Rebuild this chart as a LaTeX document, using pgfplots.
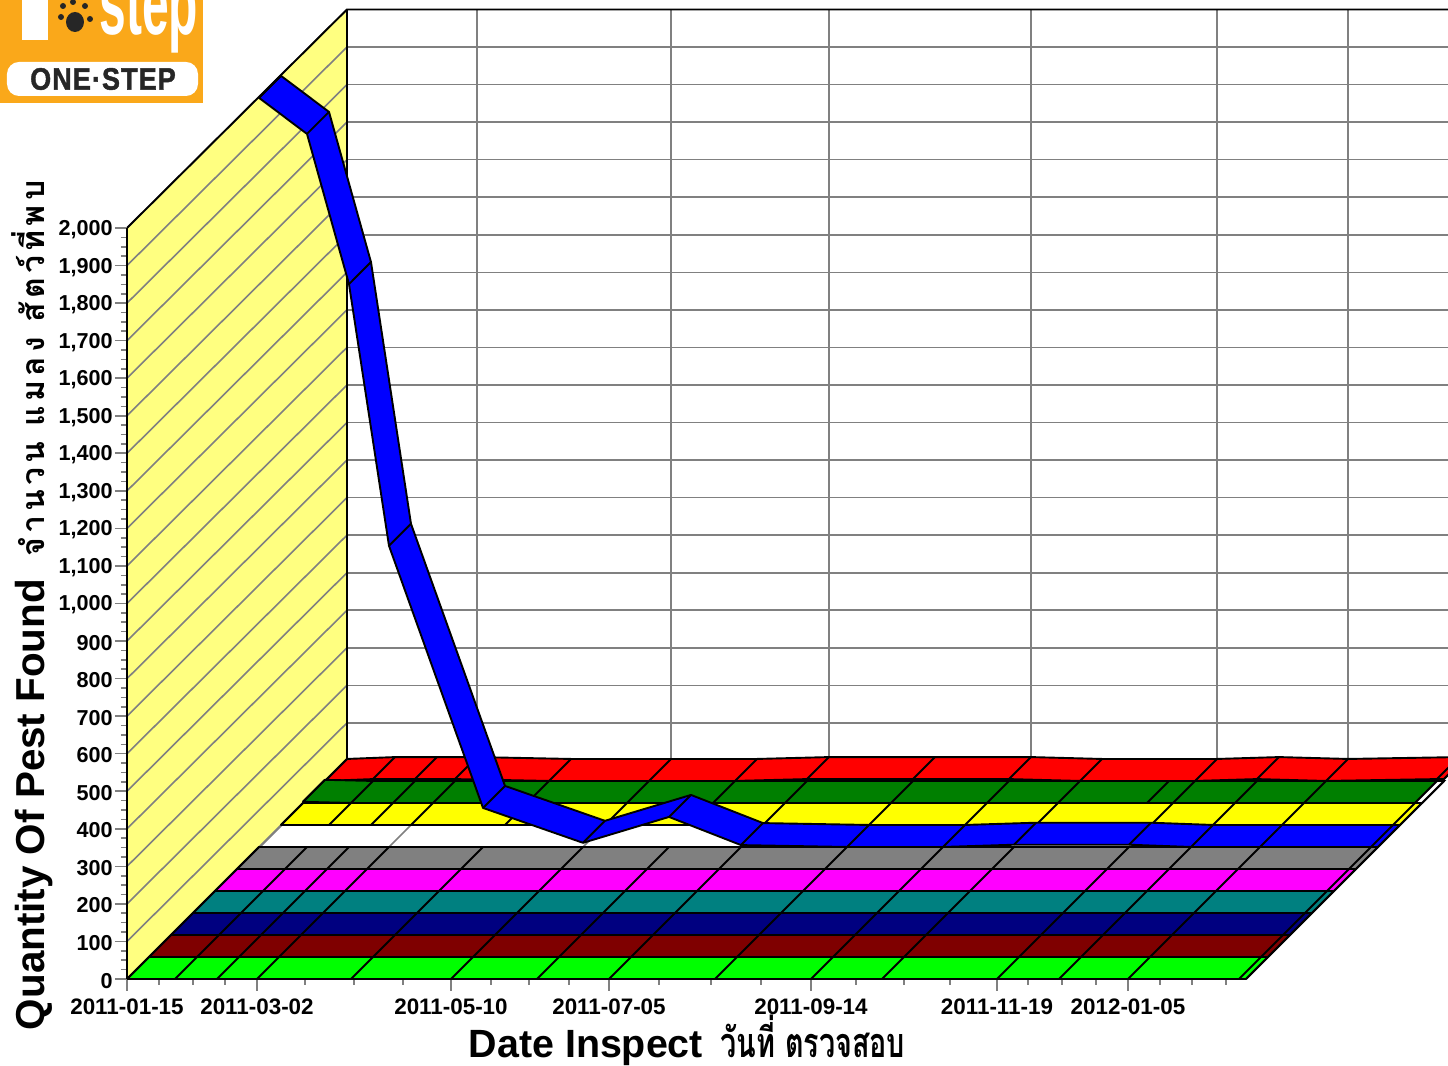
\documentclass[border=0pt]{standalone}
\usepackage{fontspec}
\setmainfont{Liberation Sans}
\newfontfamily\thaifont[Script=Thai]{Loma}
\newfontfamily\thaispaced[Script=Thai,LetterSpace=13]{Loma}
\newfontfamily\logofont[FakeBold=1.5,LetterSpace=4]{Liberation Sans}
\usepackage{pgfplots}
\usepackage{pgfplotstable}
\pgfplotsset{compat=1.18}
\definecolor{wallyellow}{HTML}{FFFF80}
\definecolor{logoorange}{HTML}{FAA81A}
\definecolor{gridgray}{HTML}{808080}
\definecolor{cred}{HTML}{FF0000}
\definecolor{cgreen}{HTML}{007F00}
\definecolor{cyellow}{HTML}{FFFF00}
\definecolor{cblue}{HTML}{0000FF}
\definecolor{cmagenta}{HTML}{FF00FF}
\definecolor{cteal}{HTML}{008080}
\definecolor{cnavy}{HTML}{000080}
\definecolor{cmaroon}{HTML}{7F0000}
\definecolor{clime}{HTML}{00FF00}
% x = position along the date axis, d = 0 front edge / 1 back edge of each ribbon
\pgfplotstableread{
x d lime maroon navy teal magenta gray blue yellow green red
127 0 0 0 0 0 0 0 1995 0 3 0
175 0 0 0 0 0 0 0 1899 0 0 5
217 0 0 0 0 0 0 0 1499 0 0 5
257 0 0 0 0 0 0 0 802 0 0 5
351 0 0 0 0 0 0 0 104 0 0 0
451 0 0 0 0 0 0 0 11 0 0 0
537 0 0 0 0 0 0 0 80 0 0 0
609 0 0 0 0 0 0 0 5 0 0 5
715 0 0 0 0 0 0 0 0 0 0 5
811 0 0 0 0 0 0 0 0 0 0 5
882 0 0 0 0 0 0 0 6 0 0 0
997 0 0 0 0 0 0 0 6 0 0 0
1059 0 0 0 0 0 0 0 0 0 0 5
1128 0 0 0 0 0 0 0 0 0 0 0
1239 0 0 0 0 0 0 0 0 0 0 5
1246 0 0 0 0 0 0 0 0 0 0 5
1246 1 0 0 0 0 0 0 0 0 0 5
1239 1 0 0 0 0 0 0 0 0 0 5
1128 1 0 0 0 0 0 0 0 0 0 0
1059 1 0 0 0 0 0 0 0 0 0 5
997 1 0 0 0 0 0 0 6 0 0 0
882 1 0 0 0 0 0 0 6 0 0 0
811 1 0 0 0 0 0 0 0 0 0 5
715 1 0 0 0 0 0 0 0 0 0 5
609 1 0 0 0 0 0 0 5 0 0 5
537 1 0 0 0 0 0 0 80 0 0 0
451 1 0 0 0 0 0 0 11 0 0 0
351 1 0 0 0 0 0 0 104 0 0 0
257 1 0 0 0 0 0 0 802 0 0 5
217 1 0 0 0 0 0 0 1499 0 0 5
175 1 0 0 0 0 0 0 1899 0 0 5
127 1 0 0 0 0 0 0 1995 0 3 0
}\T
\pgfplotstableread{
x v
127 0
127 100
127 200
127 300
127 400
127 500
127 600
127 700
127 800
127 900
127 1000
127 1100
127 1200
127 1300
127 1400
127 1500
127 1600
127 1700
127 1800
127 1900
127 2000
}\Vals
\pgfplotstableread{
x v
127 0
257 0
451 0
609 0
811 0
997 0
1128 0
}\Majors
\newcommand{\rowplot}[3]{%
 \addplot[fill=#1,draw=black,line width=0.95pt,line join=round]
   table[x expr=\thisrow{x}+22*(#2+\thisrow{d}),y expr=\thisrow{#3}+58.6*(#2+\thisrow{d})] {\T} -- cycle;
 \addplot[black,line width=0.95pt,quiver={u=22,v=58.6},skip coords between index={16}{32}]
   table[x expr=\thisrow{x}+22*#2,y expr=\thisrow{#3}+58.6*#2] {\T};
}
\begin{document}
\begin{tikzpicture}
\path[use as bounding box] (-63.5pt,-43.5pt) rectangle (660.5pt,489.5pt);
\clip (-63.5pt,-43.5pt) rectangle (660.5pt,489.5pt);
\begin{axis}[
  at={(0,0)},anchor=south west,
  scale only axis,width=559pt,height=375.5pt,
  xmin=127,xmax=1245,ymin=0,ymax=2000,
  clip=false,no markers,
  axis x line=bottom,axis y line=left,
  axis line style={-,black,line width=1.3pt},
  axis on top=true,
  tick style={gridgray,line width=0.8pt},
  major tick length=6pt,minor tick length=3pt,tick align=outside,
  ytick={0,100,...,2000},minor y tick num=3,
  scaled y ticks=false,
  yticklabel style={font=\fontsize{10.8}{12}\selectfont\bfseries,inner sep=1pt,yshift=-0.8pt,
    /pgf/number format/fixed,/pgf/number format/precision=0,/pgf/number format/1000 sep={,},/pgf/number format/assume math mode=true},
  xtick={127,257,451,609,811,997,1128},
  xticklabels={2011-01-15,2011-03-02,2011-05-10,2011-07-05,2011-09-14,2011-11-19,2012-01-05},
  xticklabel style={font=\fontsize{11.2}{12}\selectfont\bfseries,inner sep=2pt,yshift=-1.6pt},
  minor xtick={159,193,225,305,354,403,491,529,569,659,711,761,856,904,950,1028,1062,1096,1160,1192,1226},
  xlabel={Date Inspect\ \,{\thaifont\scalebox{0.73}[1.05]{วันที่ ตรวจสอบ}}},
  ylabel={Quantity Of Pest Found\ \ {\thaispaced\fontsize{16}{20}\selectfont จำนวน แมลง สัตว์ที่พบ}},
  every axis x label/.style={at={(axis cs:687,-164)},anchor=center,inner sep=0pt,font=\fontsize{19.7}{22}\selectfont\bfseries},
  every axis y label/.style={at={(axis cs:32,995)},anchor=center,rotate=90,font=\fontsize{20.2}{24}\selectfont\bfseries},
]
% left wall
\addplot[fill=wallyellow,draw=none] coordinates {(127,0) (127,2000) (347,2582) (347,586)} -- cycle;
% left wall and back wall grid
\addplot[gridgray,line width=0.8pt,quiver={u=220,v=582}] table[x=x,y=v] {\Vals};
\addplot[gridgray,line width=0.8pt,quiver={u=1112,v=0}] table[x expr=347,y expr=\thisrow{v}+582] {\Vals};
\addplot[gridgray,line width=0.8pt,quiver={u=0,v=2000}] table[x expr=\thisrow{x}+220,y expr=582] {\Majors};
% floor grid
\addplot[gridgray,line width=0.8pt,quiver={u=220,v=586}] table[x=x,y=v] {\Majors};
% wall outline
\addplot[black,line width=0.95pt] coordinates {(127,2000) (347,2582) (1459,2582)};
\addplot[black,line width=0.95pt] coordinates {(347,2582) (347,586)};
% ribbons, back to front
\rowplot{cred}{9}{red}
\rowplot{cgreen}{8}{green}
\addplot[fill=white,draw=black,line width=0.95pt] coordinates {(1415,468.8) (1422,468.8) (1444,527.4) (1437,527.4)} -- cycle;
\addplot[black,line width=0.95pt] coordinates {(1147,468.8) (1169,527.4)};
\rowplot{cyellow}{7}{yellow}
\rowplot{cblue}{6}{blue}
\rowplot{gridgray}{5}{gray}
\rowplot{cmagenta}{4}{magenta}
\rowplot{cteal}{3}{teal}
\rowplot{cnavy}{2}{navy}
\rowplot{cmaroon}{1}{maroon}
\rowplot{clime}{0}{lime}
\addplot[black,line width=1.3pt] coordinates {(127,2000) (127,0) (1246,0)};
\end{axis}
% logo (pixel coordinates of the reference)
\begin{scope}[x=.5pt,y=-.5pt,shift={(-127,-979)}]
\fill[logoorange] (0,0) rectangle (203,103);
\fill[white] (22,0) rectangle (48,40);
\node[white,anchor=base west,inner sep=0pt] at (99,35) {\scalebox{0.8}[1.5]{\fontsize{30}{30}\selectfont\bfseries step}};
\fill[black!85] (75,22) ellipse (9 and 10);
\fill[black!85] (63,6) circle (3);
\fill[black!85] (73,2) circle (3);
\fill[black!85] (85,6) circle (3);
\fill[black!85] (90,19) circle (3);
\fill[black!85] (61,17) circle (3);
\fill[white] (7,62) [rounded corners=6pt] rectangle (198,96);
\node[black!85,anchor=center,inner sep=0pt] at (103,79) {\scalebox{1}[1.15]{\fontsize{13.5}{15}\selectfont\logofont\bfseries ONE·STEP}};
\end{scope}
\end{tikzpicture}
\end{document}
